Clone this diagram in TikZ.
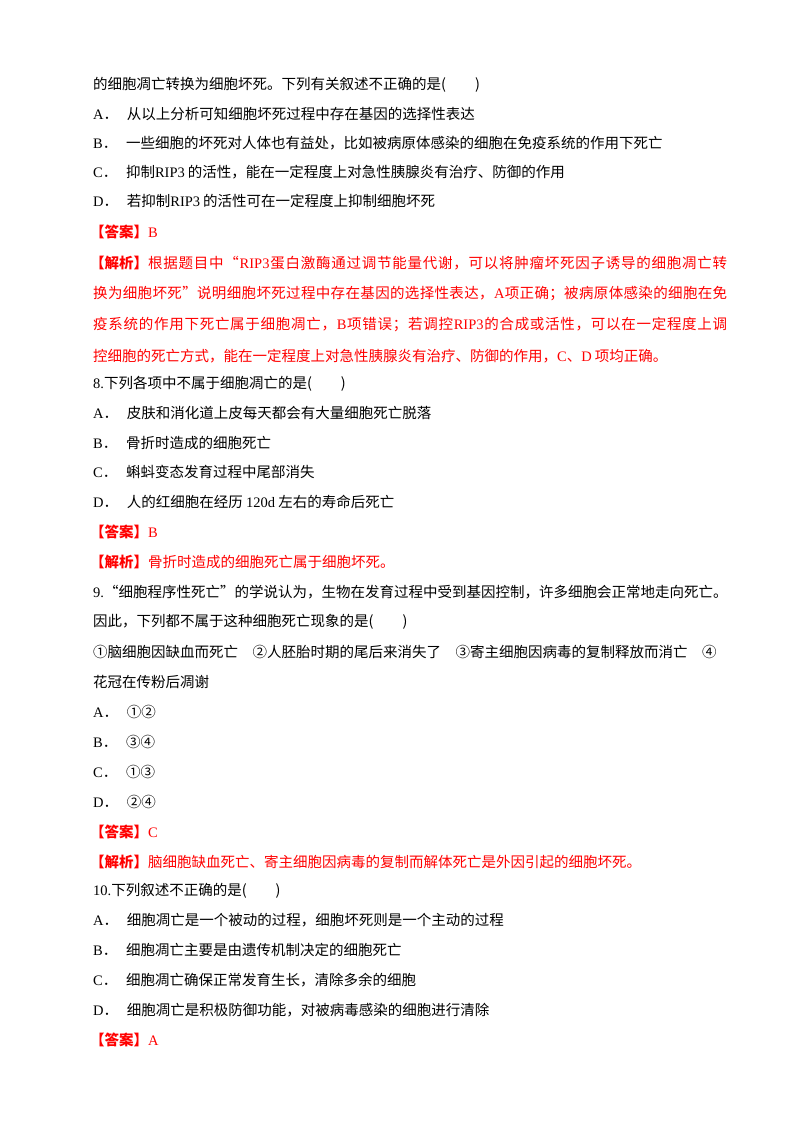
\documentclass[tikz,border=0pt]{standalone}
\usepackage{fontspec}
\setmainfont{Noto Sans CJK SC}
\newfontfamily\enf{Liberation Serif}
\newcommand{\en}[1]{{\enf #1}}
\newcommand{\rip}{{\enf RIP3}}
\newcommand{\xA}{{\enf A}}
\newcommand{\xB}{{\enf B}}
\newcommand{\xnine}{{\enf 9.}}
\newcommand{\opt}[1]{\en{#1}．\hspace{0.6em}}
\def\spr#1{\sprA#1\relax}
\def\sprA#1{\ifx\relax#1\unskip\else#1\hskip0pt plus 1fil\expandafter\sprA\fi}
\newcommand{\jl}[1]{\makebox[634pt][s]{\spr{#1}}}
\definecolor{ans}{RGB}{255,0,0}
\newcommand{\pr}{(\hspace{2em})}
\begin{document}
\begin{tikzpicture}[x=1pt,y=-1pt,
  t/.style={anchor=west,inner sep=0pt,font=\fontsize{14.5}{16}\selectfont},
  r/.style={t,text=ans}]
\useasboundingbox[fill=white] (0,0) rectangle (800,1132);
\node[t] (l1) at (93,85) {的细胞凋亡转换为细胞坏死。下列有关叙述不正确的是\pr};
\node[t] (a1) at (93,114) {\opt{A}从以上分析可知细胞坏死过程中存在基因的选择性表达};
\node[t] (b1) at (93,143) {\opt{B}一些细胞的坏死对人体也有益处，比如被病原体感染的细胞在免疫系统的作用下死亡};
\node[t] (c1) at (93,172) {\opt{C}抑制\rip\hspace{3pt}的活性，能在一定程度上对急性胰腺炎有治疗、防御的作用};
\node[t] (d1) at (93,201) {\opt{D}若抑制\rip\hspace{3pt}的活性可在一定程度上抑制细胞坏死};
\node[r] (k1) at (90,232) {\textbf{【答案】}\en{B}};
\node[r] (j1) at (90,263) {\makebox[637pt][s]{\textbf{【解析】}\spr{根据题目中“\rip 蛋白激酶通过调节能量代谢，可以将肿瘤坏死因子诱导的细胞凋亡转}}};
\node[r] (j2) at (93,294) {\jl{换为细胞坏死”说明细胞坏死过程中存在基因的选择性表达，\xA 项正确；被病原体感染的细胞在免}};
\node[r] (j3) at (93,325) {\jl{疫系统的作用下死亡属于细胞凋亡，\xB 项错误；若调控\rip 的合成或活性，可以在一定程度上调}};
\node[r] (j4) at (93,356) {控细胞的死亡方式，能在一定程度上对急性胰腺炎有治疗、防御的作用，\en{C}、\en{D}\hspace{3pt}项均正确。};
\node[t] (q8) at (93,384) {\en{8.}下列各项中不属于细胞凋亡的是\pr};
\node[t] (a8) at (93,413) {\opt{A}皮肤和消化道上皮每天都会有大量细胞死亡脱落};
\node[t] (b8) at (93,443) {\opt{B}骨折时造成的细胞死亡};
\node[t] (c8) at (93,472) {\opt{C}蝌蚪变态发育过程中尾部消失};
\node[t] (d8) at (93,502) {\opt{D}人的红细胞在经历 \en{120d} 左右的寿命后死亡};
\node[r] (k8) at (90,532) {\textbf{【答案】}\en{B}};
\node[r] (j8) at (90,562) {\textbf{【解析】}骨折时造成的细胞死亡属于细胞坏死。};
\node[t] (q9) at (93,592) {\jl{\xnine“细胞程序性死亡”的学说认为，生物在发育过程中受到基因控制，许多细胞会正常地走向死亡。}};
\node[t] (q9b) at (93,622) {因此，下列都不属于这种细胞死亡现象的是\pr};
\node[t] (q9c) at (93,652) {①脑细胞因缺血而死亡\hspace{1em}②人胚胎时期的尾后来消失了\hspace{1em}③寄主细胞因病毒的复制释放而消亡\hspace{1em}④};
\node[t] (q9d) at (93,682) {花冠在传粉后凋谢};
\node[t] (a9) at (93,712) {\opt{A}①②};
\node[t] (b9) at (93,742) {\opt{B}③④};
\node[t] (c9) at (93,772) {\opt{C}①③};
\node[t] (d9) at (93,802) {\opt{D}②④};
\node[r] (k9) at (90,832) {\textbf{【答案】}\en{C}};
\node[r] (j9) at (90,862) {\textbf{【解析】}脑细胞缺血死亡、寄主细胞因病毒的复制而解体死亡是外因引起的细胞坏死。};
\node[t] (q10) at (93,891) {\en{10.}下列叙述不正确的是\pr};
\node[t] (a10) at (93,920) {\opt{A}细胞凋亡是一个被动的过程，细胞坏死则是一个主动的过程};
\node[t] (b10) at (93,950) {\opt{B}细胞凋亡主要是由遗传机制决定的细胞死亡};
\node[t] (c10) at (93,980) {\opt{C}细胞凋亡确保正常发育生长，清除多余的细胞};
\node[t] (d10) at (93,1010) {\opt{D}细胞凋亡是积极防御功能，对被病毒感染的细胞进行清除};
\node[r] (k10) at (90,1040) {\textbf{【答案】}\en{A}};
\end{tikzpicture}
\end{document}
